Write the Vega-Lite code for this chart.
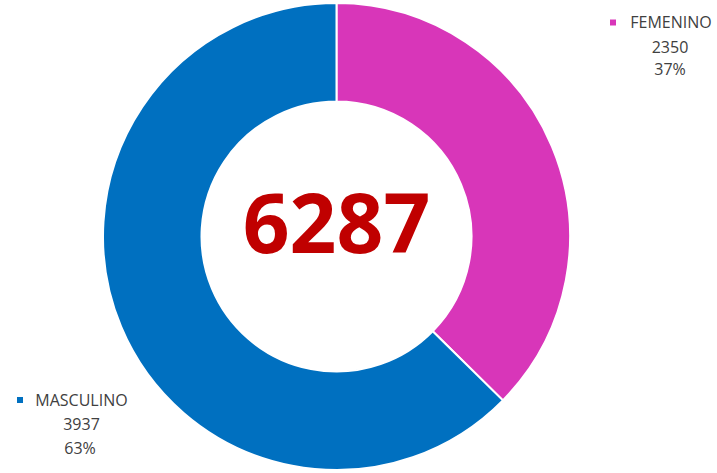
{
  "$schema": "https://vega.github.io/schema/vega-lite/v6.json",
  "width": 673,
  "height": 473,
  "autosize": {"type": "none"},
  "padding": {"left": 0, "top": 0, "right": 44, "bottom": 0},
  "background": "white",
  "config": {"view": {"stroke": null}, "text": {"font": "Open Sans"}},
  "data": {
    "values": [
      {"sexo": "FEMENINO", "cantidad": 2350, "porcentaje": 0.37},
      {"sexo": "MASCULINO", "cantidad": 3937, "porcentaje": 0.63}
    ]
  },
  "layer": [
    {
      "mark": {"type": "arc", "radius": 233.5, "radius2": 135, "stroke": "white", "strokeWidth": 2},
      "encoding": {
        "theta": {"field": "cantidad", "type": "quantitative", "stack": true},
        "color": {
          "field": "sexo",
          "type": "nominal",
          "scale": {"domain": ["FEMENINO", "MASCULINO"], "range": ["#D836B9", "#0070C0"]},
          "legend": null
        }
      }
    },
    {
      "transform": [{"aggregate": [{"op": "sum", "field": "cantidad", "as": "total"}]}],
      "mark": {"type": "text", "fontSize": 82, "fontWeight": "bold", "color": "#C00000", "dy": -9, "baseline": "middle", "align": "center", "font": "Open Sans"},
      "encoding": {"text": {"field": "total", "type": "quantitative", "format": "d"}}
    },
    {
      "transform": [{"filter": "datum.sexo === 'FEMENINO'"}],
      "mark": {"type": "point", "shape": "square", "filled": true, "size": 36, "opacity": 1, "xOffset": 276.5, "yOffset": -214},
      "encoding": {"color": {"field": "sexo", "type": "nominal", "legend": null}}
    },
    {
      "transform": [{"filter": "datum.sexo === 'FEMENINO'"}],
      "mark": {"type": "text", "fontSize": 16, "color": "#404040", "dx": 334.5, "dy": -214, "baseline": "middle", "align": "center"},
      "encoding": {"text": {"field": "sexo", "type": "nominal"}}
    },
    {
      "transform": [{"filter": "datum.sexo === 'FEMENINO'"}],
      "mark": {"type": "text", "fontSize": 16, "color": "#404040", "dx": 333.5, "dy": -189, "baseline": "middle", "align": "center"},
      "encoding": {"text": {"field": "cantidad", "type": "quantitative", "format": "d"}}
    },
    {
      "transform": [{"filter": "datum.sexo === 'FEMENINO'"}],
      "mark": {"type": "text", "fontSize": 16, "color": "#404040", "dx": 333.5, "dy": -167, "baseline": "middle", "align": "center"},
      "encoding": {"text": {"field": "porcentaje", "type": "quantitative", "format": ".0%"}}
    },
    {
      "transform": [{"filter": "datum.sexo === 'MASCULINO'"}],
      "mark": {"type": "point", "shape": "square", "filled": true, "size": 36, "opacity": 1, "xOffset": -316.5, "yOffset": 163.5},
      "encoding": {"color": {"field": "sexo", "type": "nominal", "legend": null}}
    },
    {
      "transform": [{"filter": "datum.sexo === 'MASCULINO'"}],
      "mark": {"type": "text", "fontSize": 16, "color": "#404040", "dx": -255, "dy": 164, "baseline": "middle", "align": "center"},
      "encoding": {"text": {"field": "sexo", "type": "nominal"}}
    },
    {
      "transform": [{"filter": "datum.sexo === 'MASCULINO'"}],
      "mark": {"type": "text", "fontSize": 16, "color": "#404040", "dx": -255, "dy": 188, "baseline": "middle", "align": "center"},
      "encoding": {"text": {"field": "cantidad", "type": "quantitative", "format": "d"}}
    },
    {
      "transform": [{"filter": "datum.sexo === 'MASCULINO'"}],
      "mark": {"type": "text", "fontSize": 16, "color": "#404040", "dx": -256.5, "dy": 212.5, "baseline": "middle", "align": "center"},
      "encoding": {"text": {"field": "porcentaje", "type": "quantitative", "format": ".0%"}}
    }
  ]
}
